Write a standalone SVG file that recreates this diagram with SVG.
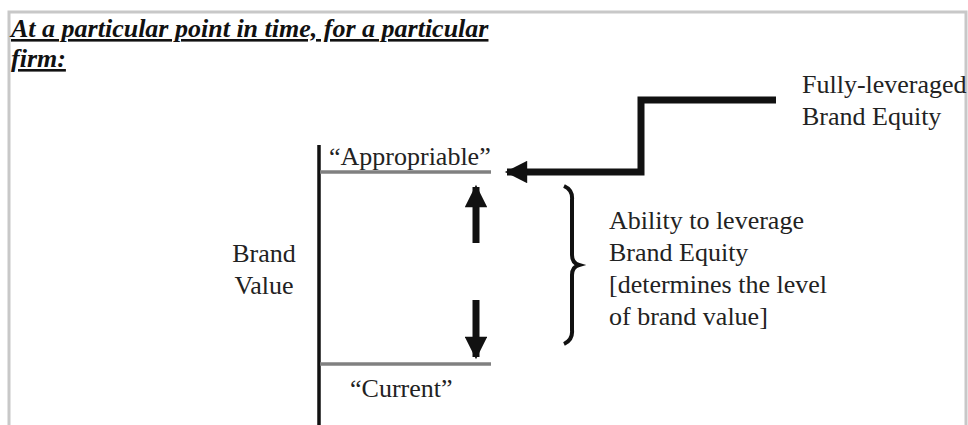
<svg xmlns="http://www.w3.org/2000/svg" width="968" height="425" viewBox="0 0 968 425" font-family="Liberation Serif, serif">
  <style>
    .t { font-size: 26px; fill: #222; }
    .title { font-size: 26px; font-weight: bold; font-style: italic; text-decoration: underline; fill: #111; }
    .level { stroke: #808080; stroke-width: 3.5; fill: none; }
    .axis { stroke: #111; stroke-width: 3.5; fill: none; }
    .conn { stroke: #111; fill: none; }
  </style>
  <defs>
    <marker id="head" viewBox="0 0 10 10" refX="9" refY="5" markerWidth="3.4" markerHeight="3.2" orient="auto" markerUnits="strokeWidth">
      <path d="M0,0 L10,5 L0,10 z" fill="#111"/>
    </marker>
  </defs>
  <rect width="968" height="425" fill="#fff"/>
  <!-- page frame -->
  <path d="M9,425 V12 H966 V425" fill="none" stroke="#c8c8c8" stroke-width="3"/>

  <g id="title">
    <text class="title" x="11" y="37">At a particular point in time, for a particular</text>
    <text class="title" x="11" y="67">firm:</text>
  </g>

  <g id="axis">
    <line class="axis" x1="319" y1="145" x2="319" y2="425"/>
    <text class="t" x="264" y="262" text-anchor="middle">Brand</text>
    <text class="t" x="264" y="294" text-anchor="middle">Value</text>
  </g>

  <g id="appropriable">
    <line class="level" x1="320" y1="172" x2="491" y2="172"/>
    <text class="t" x="329" y="165">“Appropriable”</text>
  </g>

  <g id="current">
    <line class="level" x1="320" y1="364" x2="491" y2="364"/>
    <text class="t" x="350" y="397">“Current”</text>
  </g>

  <g id="fully-leveraged">
    <text class="t" x="802" y="93">Fully-leveraged</text>
    <text class="t" x="802" y="125">Brand Equity</text>
  </g>

  <g id="ability">
    <text class="t" x="609" y="229">Ability to leverage</text>
    <text class="t" x="609" y="261">Brand Equity</text>
    <text class="t" x="609" y="293">[determines the level</text>
    <text class="t" x="609" y="325">of brand value]</text>
  </g>

  <g id="connectors">
    <!-- stepped arrow into the appropriable level -->
    <path class="conn" d="M776,100 H641 V172 H507" stroke-width="7" marker-end="url(#head)"/>
    <!-- range arrows between the two levels -->
    <path class="conn" d="M476,243 V187" stroke-width="7" marker-end="url(#head)"/>
    <path class="conn" d="M476,300 V357" stroke-width="7" marker-end="url(#head)"/>
    <!-- brace -->
    <path class="conn" stroke-width="4" d="M564,186 Q573,190 572,200 V255 Q572,263 579,265 Q572,267 572,275 V330 Q573,340 564,344"/>
  </g>
</svg>
